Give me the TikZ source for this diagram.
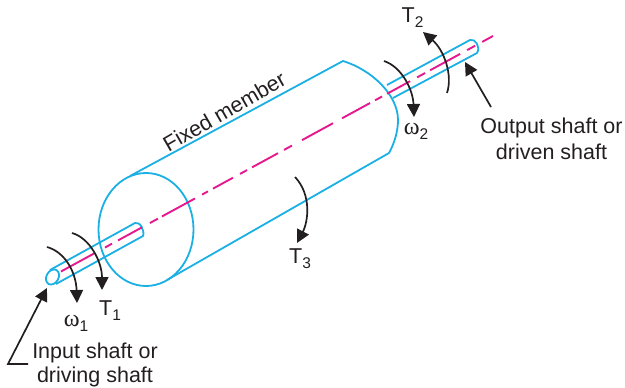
\documentclass[tikz,border=0pt]{standalone}
\usepackage{fontspec}
\setmainfont{Liberation Sans}
\newfontfamily\omfont{Liberation Serif}
\usetikzlibrary{arrows.meta,shapes.geometric}
\definecolor{shaftblue}{HTML}{1BB0E4}
\definecolor{axismag}{HTML}{E5188E}
\definecolor{inkblack}{HTML}{231F20}
\newcommand{\subs}[1]{\raisebox{-5.5pt}{\fontsize{15.5}{16}\selectfont #1}}
\newcommand{\omg}{{\omfont\fontsize{24}{24}\selectfont ω}}
\tikzset{
  body/.style={draw=shaftblue,line width=1.8pt,line join=round},
  axisline/.style={draw=axismag,line width=1.9pt,dash pattern=on 38.7pt off 11.4pt on 8pt off 6.8pt on 27.3pt off 9.1pt on 9.1pt off 4.6pt on 37.6pt off 8pt on 6.8pt off 5.7pt on 22.8pt off 8pt on 8pt off 5.7pt on 29.6pt off 6.8pt on 9.1pt off 11.4pt on 35.3pt off 10.3pt on 31.9pt off 5.7pt on 8pt off 5.7pt on 26.2pt off 8pt on 9.1pt off 5.7pt on 34.2pt off 8pt on 9.1pt off 8pt on 14pt off 20pt},
  pointer/.style={draw=inkblack,line width=1.7pt,-{Triangle[length=13pt,width=13pt]}},
  lbl/.style={text=inkblack,font=\fontsize{21.5}{25}\selectfont,inner sep=0pt,anchor=base},
}
\begin{document}
\begin{tikzpicture}[x=1pt,y=-1pt]
\useasboundingbox (0,0) rectangle (625,388);
% front face and body
\node[body,ellipse,minimum width=95pt,minimum height=113pt,inner sep=0pt] (face) at (146,229.5) {};
\coordinate (bodyTL) at (130,176);
\coordinate (bodyTR) at (343,61);
\coordinate (bodyBL) at (167,280);
\coordinate (bodyBR) at (389,153);
\draw[body] (bodyTL) -- (bodyTR) .. controls (372,70) and (398,95) .. (398,120) .. controls (398,132) and (394,144) .. (bodyBR) -- (bodyBL);
% input shaft
\coordinate (inTop) at (50,270);
\coordinate (inBot) at (56,284);
\coordinate (inEndT) at (135,223);
\coordinate (inEndB) at (143,236);
\draw[body,rotate around={-30:(52.5,277)}] (52.5,277) ellipse (6pt and 8pt);
\draw[body] (inTop) -- (inEndT) .. controls (140,221) and (145,231) .. (inEndB) -- (inBot);
% output shaft
\coordinate (outTop) at (387,85);
\coordinate (outBot) at (393,98);
\coordinate (outEndT) at (470,40);
\coordinate (outEndB) at (477,53);
\draw[body] (outTop) -- (outEndT) .. controls (475,38) and (481,47) .. (outEndB) -- (outBot);
% axis
\coordinate (axisA) at (61,271.5);
\coordinate (axisB) at (493,36);
\draw[axisline] (axisA) -- (axisB);
% torque and speed arrows
\coordinate (w1s) at (47,247);
\coordinate (w1e) at (77,303);
\coordinate (t1s) at (72,233);
\coordinate (t1e) at (102,290);
\coordinate (w2s) at (384,61);
\coordinate (w2e) at (414,117);
\coordinate (t2s) at (447,93);
\coordinate (t2e) at (423,32);
\coordinate (t3s) at (295,177);
\coordinate (t3e) at (297,243);
\draw[pointer] (w1s) .. controls (65,252) and (76,272) .. (w1e);
\draw[pointer] (t1s) .. controls (90,238) and (102,262) .. (t1e);
\draw[pointer] (w2s) .. controls (402,67) and (413,90) .. (w2e);
\draw[pointer] (t2s) .. controls (453,75) and (444,50) .. (t2e);
\draw[pointer] (t3s) .. controls (312,195) and (308,222) .. (t3e);
% labels
\node[lbl] (lw1) at (76,326) {\omg\subs{1}};
\node[lbl] (lt1) at (110,315) {T\subs{1}};
\node[lbl] (lw2) at (416,134) {\omg\subs{2}};
\node[lbl] (lt2) at (412.5,22) {T\subs{2}};
\node[lbl] (lt3) at (300,263) {T\subs{3}};
\node[lbl,rotate=30] (fixed) at (228,118) {Fixed member};
\node[lbl] (outA) at (551.5,133) {Output shaft or};
\node[lbl] (outB) at (551.5,159) {driven shaft};
\node[lbl] (inA) at (95,358) {Input shaft or};
\node[lbl] (inB) at (95,382) {driving shaft};
% leaders
\coordinate (outTip) at (465,62);
\coordinate (outTail) at (491,107);
\draw[pointer] (outTail) -- (outTip);
\coordinate (inTip) at (47,288);
\coordinate (inElbow) at (8,364);
\coordinate (inTail) at (28,364);
\draw[pointer] (inTail) -- (inElbow) -- (inTip);
\end{tikzpicture}
\end{document}
